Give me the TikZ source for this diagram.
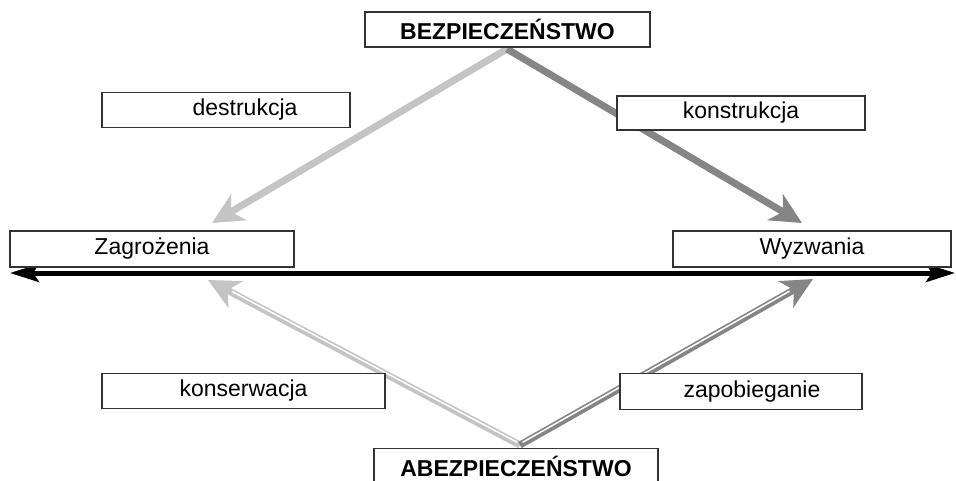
\documentclass[tikz,border=0pt]{standalone}
\usepackage{fontspec}
\setmainfont{Liberation Sans}
\usetikzlibrary{arrows.meta}
\definecolor{lightarrow}{HTML}{C4C4C4}
\definecolor{darkarrow}{HTML}{858585}
\definecolor{boxline}{HTML}{333333}
\begin{document}
\begin{tikzpicture}[x=1pt,y=-1pt,
  labelbox/.style={draw=boxline, line width=1.1pt, fill=white, inner sep=0pt,
    minimum height=35pt, font=\fontsize{23}{25}\selectfont},
  headbox/.style={labelbox, font=\fontsize{23}{25}\selectfont\bfseries},
  upperarrow/.style={line width=7pt, -{Stealth[length=31pt,width=30pt,inset=9pt]}},
  lowerarrow/.style={line width=7pt, -{Stealth[length=31pt,width=30pt,inset=9pt]}},
  stripe/.style={draw=white, line width=1.5pt, shorten >=27pt, shorten <=3pt},
  axis/.style={line width=5pt, {Stealth[length=29pt,width=18pt,inset=6pt]}-{Stealth[length=29pt,width=18pt,inset=6pt]}}
]
\useasboundingbox (0,0) rectangle (956,480);

% free ends of the connectors
\coordinate (topapex) at (507,49);
\coordinate (botapex) at (520,445);
\coordinate (tipUL) at (212,223);
\coordinate (tipUR) at (802,223);
\coordinate (tipLL) at (208,280);
\coordinate (tipLR) at (813,279);
\coordinate (axisL) at (10,273);
\coordinate (axisR) at (955,273);

% upper arrows: solid bands
\draw[upperarrow, draw=lightarrow, fill=lightarrow] (topapex) -- (tipUL);
\draw[upperarrow, draw=darkarrow, fill=darkarrow] (topapex) -- (tipUR);

% lower arrows: bands with a thin white stripe
\draw[lowerarrow, draw=lightarrow, fill=lightarrow] (botapex) -- (tipLL);
\draw[stripe, transform canvas={yshift=1.2pt}] (botapex) -- (tipLL);
\draw[lowerarrow, draw=darkarrow, fill=darkarrow] (botapex) -- (tipLR);
\draw[stripe, transform canvas={yshift=1.2pt}] (botapex) -- (tipLR);

% horizontal axis
\draw[axis] (axisL) -- (axisR);

% boxes
\node[headbox, minimum width=285pt] (bez) at (507.5,29.5) {BEZPIECZEŃSTWO};
\node[headbox, minimum width=284pt] (abez) at (516,466) {ABEZPIECZEŃSTWO};
\node[labelbox, minimum width=248pt, minimum height=35pt] (destr) at (226,110) {\hspace*{38pt}destrukcja};
\node[labelbox, minimum width=248pt, minimum height=34pt] (konstr) at (741,113) {konstrukcja};
\node[labelbox, minimum width=284pt, minimum height=36pt] (zagr) at (152,249) {Zagrożenia};
\node[labelbox, minimum width=278pt, minimum height=36pt] (wyzw) at (812,249) {Wyzwania};
\node[labelbox, minimum width=283pt, minimum height=35pt] (kons) at (243.5,391) {konserwacja};
\node[labelbox, minimum width=242pt, minimum height=36pt] (zap) at (741,391.5) {\hspace*{22pt}zapobieganie};
\end{tikzpicture}
\end{document}
